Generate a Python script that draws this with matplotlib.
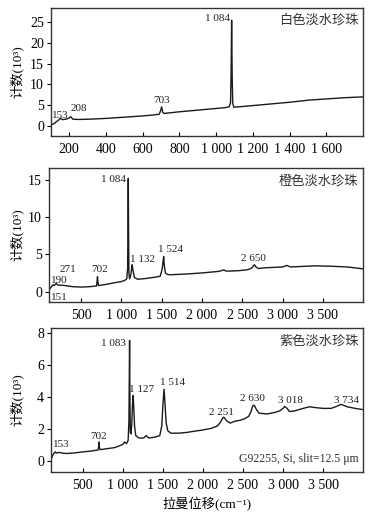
import matplotlib
matplotlib.use('Agg')
import matplotlib.pyplot as plt

plt.rcParams['font.family'] = ['Liberation Serif', 'Noto Sans CJK SC', 'DejaVu Sans']

# white pearl spectrum
white_x = [100, 115, 130, 145, 153, 165, 180, 195, 208, 220, 250, 300, 400, 500, 600, 650, 690, 697, 703, 709, 716,
           800, 900, 1000, 1050, 1070, 1078, 1081, 1084, 1087, 1090, 1096, 1150, 1200, 1300, 1400, 1500, 1600, 1700, 1800]
white_y = [0.2, 0.5, 1.0, 1.5, 1.8, 1.5, 1.6, 1.8, 2.2, 1.6, 1.55, 1.6, 1.8, 2.1, 2.4, 2.6, 2.8, 3.6, 4.6, 3.3, 3.0,
           3.4, 3.8, 4.2, 4.4, 4.6, 5.5, 12.0, 25.5, 12.0, 5.5, 4.5, 4.7, 4.9, 5.3, 5.7, 6.2, 6.5, 6.8, 7.0]
white_peaks = ['153', '208', '703', '1 084']
white_lab_x = [150, 253, 705, 1005]
white_lab_y = [2.6, 4.1, 6.2, 25.8]

# orange pearl spectrum
orange_x = [100, 120, 140, 151, 165, 180, 190, 205, 230, 271, 300, 400, 500, 600, 690, 697, 702, 707, 715,
            800, 900, 1000, 1040, 1065, 1076, 1080, 1084, 1088, 1092, 1100, 1115, 1125, 1132, 1140, 1160,
            1200, 1300, 1400, 1480, 1505, 1515, 1524, 1532, 1545, 1570, 1600, 1800, 2000, 2200, 2240, 2270,
            2300, 2350, 2450, 2550, 2600, 2630, 2650, 2670, 2700, 2800, 2900, 3000, 3050, 3100, 3200, 3400,
            3600, 3800, 4000]
orange_y = [0.2, 0.5, 0.8, 0.9, 0.8, 1.0, 1.1, 0.9, 0.85, 0.85, 0.8, 0.65, 0.6, 0.65, 0.75, 1.4, 2.0, 1.3, 0.8,
            0.95, 1.15, 1.35, 1.5, 1.7, 3.0, 8.0, 15.2, 8.0, 2.5, 1.7, 2.2, 3.0, 3.6, 3.0, 1.9,
            1.65, 1.75, 1.9, 2.05, 3.0, 4.0, 4.7, 3.4, 2.5, 2.3, 2.25, 2.35, 2.5, 2.7, 2.8, 2.9,
            2.75, 2.75, 2.8, 2.9, 3.05, 3.3, 3.6, 3.3, 3.1, 3.2, 3.25, 3.3, 3.5, 3.3, 3.35, 3.45,
            3.4, 3.3, 3.05]
orange_peaks = ['151', '190', '271', '702', '1 084', '1 132', '1 524', '2 650']
orange_lab_x = [228, 228, 330, 724, 900, 1256, 1609, 2640]
orange_lab_y = [-0.8, 1.5, 3.0, 2.9, 15.0, 4.3, 5.7, 4.5]

# purple pearl spectrum
purple_x = [100, 120, 140, 153, 170, 200, 250, 300, 400, 500, 600, 690, 697, 702, 707, 715, 800, 900, 1000, 1020,
            1045, 1065, 1075, 1079, 1083, 1087, 1092, 1100, 1110, 1120, 1127, 1135, 1145, 1160, 1200, 1260, 1290,
            1320, 1400, 1460, 1485, 1500, 1514, 1525, 1540, 1560, 1600, 1700, 1800, 1900, 2000, 2100, 2180, 2220,
            2240, 2260, 2300, 2340, 2400, 2460, 2520, 2570, 2600, 2620, 2640, 2670, 2700, 2800, 2900, 2960, 3000,
            3020, 3050, 3080, 3150, 3250, 3330, 3400, 3500, 3600, 3680, 3720, 3750, 3800, 3900, 4000]
purple_y = [0.05, 0.35, 0.5, 0.58, 0.5, 0.55, 0.5, 0.48, 0.52, 0.58, 0.63, 0.7, 0.9, 1.2, 0.85, 0.72, 0.78, 0.85,
            1.05, 1.2, 1.1, 1.3, 2.5, 5.0, 7.55, 4.0, 1.8, 1.7, 2.3, 3.6, 4.1, 3.4, 2.2, 1.6, 1.45, 1.45, 1.6,
            1.45, 1.5, 1.6, 2.2, 3.6, 4.5, 3.6, 2.4, 1.9, 1.75, 1.75, 1.8, 1.88, 1.95, 2.05, 2.2, 2.45,
            2.65, 2.75, 2.5, 2.38, 2.5, 2.55, 2.65, 2.8, 3.1, 3.45, 3.5, 3.2, 3.0, 2.95, 3.05, 3.15, 3.3,
            3.42, 3.3, 3.1, 3.15, 3.3, 3.4, 3.35, 3.3, 3.3, 3.45, 3.55, 3.5, 3.4, 3.3, 3.22]
purple_peaks = ['153', '702', '1 083', '1 127', '1 514', '2 251', '2 630', '3 018', '3 734']
purple_lab_x = [225, 699, 877, 1231, 1625, 2236, 2623, 3093, 3787]
purple_lab_y = [1.07, 1.57, 7.33, 4.45, 4.93, 3.05, 3.93, 3.82, 3.82]

names = ['白色淡水珍珠', '橙色淡水珍珠', '紫色淡水珍珠']

fig = plt.figure(figsize=(3.74, 5.18), dpi=100)
ax1 = fig.add_axes([0.136, 0.737, 0.835, 0.248])
ax2 = fig.add_axes([0.131, 0.417, 0.840, 0.259])
ax3 = fig.add_axes([0.136, 0.089, 0.835, 0.278])

panels = [
    (ax1, white_x, white_y, white_peaks, white_lab_x, white_lab_y, (100, 1800), (-2.5, 28.5),
     [200, 400, 600, 800, 1000, 1200, 1400, 1600], ['200', '400', '600', '800', '1 000', '1 200', '1 400', '1 600'],
     [0, 5, 10, 15, 20, 25]),
    (ax2, orange_x, orange_y, orange_peaks, orange_lab_x, orange_lab_y, (100, 4000), (-1.4, 16.6),
     [500, 1000, 1500, 2000, 2500, 3000, 3500], ['500', '1 000', '1 500', '2 000', '2 500', '3 000', '3 500'],
     [0, 5, 10, 15]),
    (ax3, purple_x, purple_y, purple_peaks, purple_lab_x, purple_lab_y, (100, 4000), (-0.67, 8.33),
     [500, 1000, 1500, 2000, 2500, 3000, 3500], ['500', '1 000', '1 500', '2 000', '2 500', '3 000', '3 500'],
     [0, 2, 4, 6, 8]),
]

for i, (ax, x, y, peaks, lx, ly, xlim, ylim, xt, xtl, yt) in enumerate(panels):
    ax.plot(x, y, color='#1a1a1a', lw=1.0)
    for t, px, py in zip(peaks, lx, ly):
        ax.text(px, py, t, fontsize=8, ha='center', va='center', color='#222222')
    ax.set_xlim(*xlim)
    ax.set_ylim(*ylim)
    ax.set_xticks(xt)
    ax.set_xticklabels(xtl)
    ax.set_yticks(yt)
    ax.tick_params(axis='x', direction='in', length=3, labelsize=10, pad=5)
    ax.tick_params(axis='y', direction='out', length=3, labelsize=10, pad=2)
    ax.set_ylabel('计数(10³)', fontsize=9.5)
    left_px = 49 if ax is ax2 else 51
    ax.yaxis.set_label_coords((24 - left_px) / 312.0, 0.5)
    ax.text(0.985, 0.95, names[i], transform=ax.transAxes, fontsize=9.5, ha='right', va='top', color='#333333')
    for s in ax.spines.values():
        s.set_linewidth(1.0)
        s.set_color('#333333')

ax3.text(0.985, 0.05, 'G92255, Si, slit=12.5 μm', transform=ax3.transAxes, fontsize=8.5, ha='right', va='bottom',
         color='#333333')
ax3.set_xlabel('拉曼位移(cm⁻¹)', fontsize=9.5, labelpad=4)

fig.savefig('out.png', dpi=100)
